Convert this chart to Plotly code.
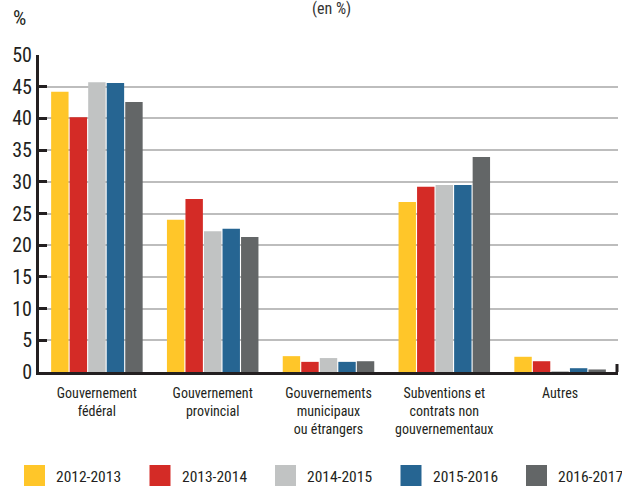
import plotly.graph_objects as go

categories = ["Gouvernement<br>fédéral", "Gouvernement<br>provincial",
              "Gouvernements<br>municipaux<br>ou étrangers",
              "Subventions et<br>contrats non<br>gouvernementaux", "Autres"]
years = ["2012-2013", "2013-2014", "2014-2015", "2015-2016", "2016-2017"]
v2012 = [44.2, 24.0, 2.5, 26.8, 2.4]
v2013 = [40.2, 27.3, 1.6, 29.2, 1.7]
v2014 = [45.7, 22.2, 2.2, 29.5, 0.1]
v2015 = [45.6, 22.6, 1.6, 29.5, 0.6]
v2016 = [42.6, 21.3, 1.7, 33.9, 0.4]
series = [v2012, v2013, v2014, v2015, v2016]
colors = ["#FFC629", "#D42B26", "#C1C3C3", "#266592", "#636667"]
y_ticks = [0, 5, 10, 15, 20, 25, 30, 35, 40, 45, 50]

FONT = "Liberation Sans Narrow, Roboto Condensed, DejaVu Sans Condensed, Roboto, sans-serif"
TXT = "#231F20"

fig = go.Figure()
for name, vals, col in zip(years, series, colors):
    fig.add_trace(go.Bar(x=categories, y=vals, name=name, marker_color=col,
                         marker_line_width=0, showlegend=False))

W, H = 622, 487
ml, mr, mt, mb = 39, 4, 55, 115
pw, ph = W - ml - mr, H - mt - mb

def px_x(x):
    return (x - ml) / pw

def px_y(y):
    return (H - mb - y) / ph

fig.update_layout(
    width=W, height=H,
    margin=dict(l=ml, r=mr, t=mt, b=mb),
    barmode="group", bargap=0.2, bargroupgap=0.06,
    plot_bgcolor="white", paper_bgcolor="white",
    font=dict(family=FONT, color=TXT),
    xaxis=dict(showline=True, linecolor=TXT, linewidth=3, ticks="",
               tickfont=dict(size=14, color=TXT), showgrid=False,
               ticklabelstandoff=6),
    yaxis=dict(range=[0, 50], tickvals=y_ticks, showline=True, linecolor=TXT,
               linewidth=3, ticks="inside", ticklen=8, tickwidth=3, tickcolor=TXT,
               showgrid=True, gridcolor="#BDBDBD", gridwidth=1.5,
               tickfont=dict(size=20, color=TXT), zeroline=False),
)

# title and unit
fig.add_annotation(text="(en %)", xref="paper", yref="paper", x=px_x(331), y=px_y(8.5),
                   showarrow=False, font=dict(size=16, color="#333333"),
                   xanchor="center", yanchor="middle")
fig.add_annotation(text="%", xref="paper", yref="paper", x=px_x(20), y=px_y(18),
                   showarrow=False, font=dict(size=21, color=TXT),
                   xanchor="center", yanchor="middle")

# right end tick of x axis
fig.add_shape(type="line", xref="paper", yref="paper", x0=px_x(617), x1=px_x(617),
              y0=0, y1=px_y(364), line=dict(color=TXT, width=3))

# legend (manual, large squares)
for i, (name, col) in enumerate(zip(years, colors)):
    x0 = 24 + 125.5 * i
    fig.add_shape(type="rect", xref="paper", yref="paper",
                  x0=px_x(x0), x1=px_x(x0 + 21), y0=px_y(465), y1=px_y(486),
                  fillcolor=col, line_width=0)
    fig.add_annotation(text=name, xref="paper", yref="paper", x=px_x(x0 + 30),
                       y=px_y(477), showarrow=False, xanchor="left", yanchor="middle",
                       font=dict(size=15.5, color=TXT))

fig.write_html("out.html", config={"displayModeBar": False},
               post_script="document.body.style.margin='0px';")
